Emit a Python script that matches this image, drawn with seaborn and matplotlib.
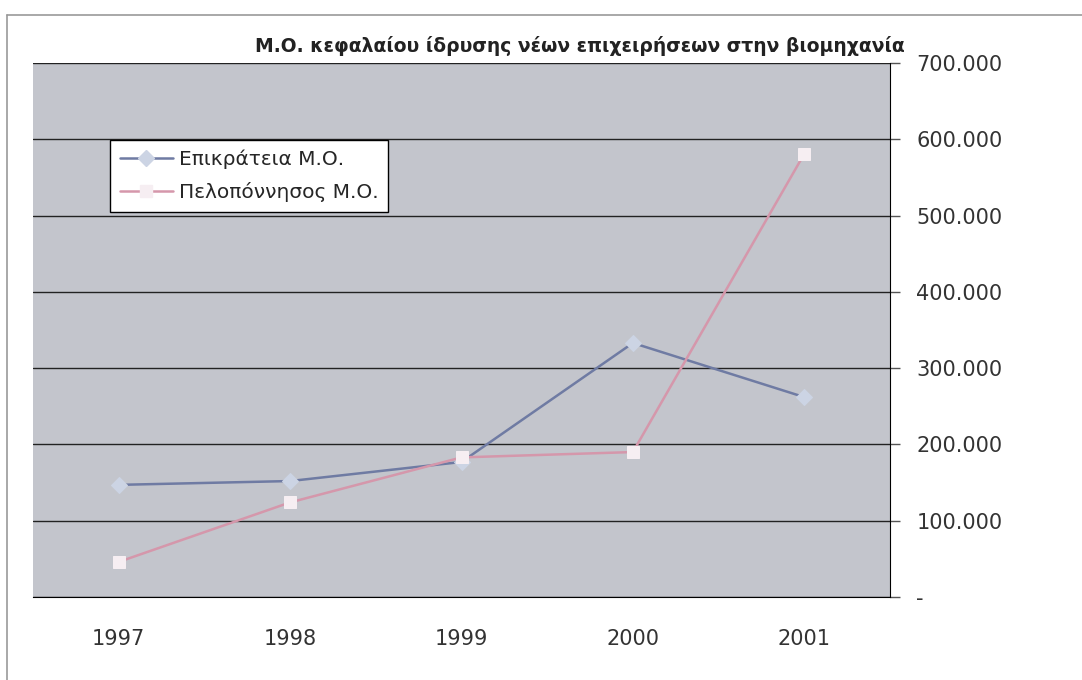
import numpy as np
import pandas as pd
import matplotlib
matplotlib.use("Agg")
import matplotlib.pyplot as plt
import seaborn as sns
from matplotlib.lines import Line2D

# -------------------------------------------------
# DATA
# -------------------------------------------------
years = ["1997", "1998", "1999", "2000", "2001"]
epikrateia = [147000, 152000, 177000, 333000, 262000]
peloponnisos = [46000, 124000, 183000, 190000, 581000]
series_names = ["Επικράτεια Μ.Ο.", "Πελοπόννησος Μ.Ο."]
title = "Μ.Ο. κεφαλαίου ίδρυσης νέων επιχειρήσεων στην βιομηχανία"
y_ticks = [0, 100000, 200000, 300000, 400000, 500000, 600000, 700000]
y_labels = ["-", "100.000", "200.000", "300.000", "400.000", "500.000", "600.000", "700.000"]

df = pd.DataFrame({
    "year": years * 2,
    "value": epikrateia + peloponnisos,
    "series": [series_names[0]] * 5 + [series_names[1]] * 5,
})

# -------------------------------------------------
# STYLE
# -------------------------------------------------
sns.set_style("white")
plt.rcParams["font.family"] = ["DejaVu Sans"]

fig = plt.figure(figsize=(10.82, 6.8), dpi=100)
ax = fig.add_axes([33 / 1082, 83 / 680, 857 / 1082, 534 / 680])
ax.set_facecolor("#c3c5cc")

palette = {series_names[0]: "#6f7ba3", series_names[1]: "#d597ab"}
markers = {series_names[0]: "D", series_names[1]: "s"}
marker_face = {series_names[0]: "#ccd4e4", series_names[1]: "#f6eef2"}

for name in series_names:
    sub = df[df["series"] == name]
    sns.lineplot(data=sub, x="year", y="value", ax=ax, color=palette[name],
                 marker=markers[name], markersize=8, linewidth=1.8,
                 markerfacecolor=marker_face[name], markeredgecolor=marker_face[name],
                 sort=False, legend=False)

# -------------------------------------------------
# AXES
# -------------------------------------------------
ax.set_xlim(-0.5, 4.5)
ax.set_ylim(0, 700000)
ax.set_xlabel("")
ax.set_ylabel("")

ax.set_xticks(np.arange(-0.5, 5, 1))
ax.set_xticklabels([])
ax.set_xticks(np.arange(5), minor=True)
ax.set_xticklabels(years, minor=True, fontsize=15, color="#333333")
ax.tick_params(axis="x", which="major", direction="out", length=6, width=1, color="black")
ax.tick_params(axis="x", which="minor", length=0, pad=23)

ax.yaxis.tick_right()
ax.set_yticks(y_ticks)
ax.set_yticklabels(y_labels, fontsize=15, color="#333333")
ax.tick_params(axis="y", direction="out", length=7, width=1, color="#555555", pad=12)

ax.grid(axis="y", color="#222222", linewidth=1)
ax.grid(axis="x", visible=False)
ax.set_axisbelow(True)

for side in ["left", "top"]:
    ax.spines[side].set_visible(False)
ax.spines["right"].set_color("black")
ax.spines["bottom"].set_color("black")

ax.set_title(title, fontsize=13.5, fontweight="bold", color="#222222", pad=8, x=0.638)

# -------------------------------------------------
# LEGEND
# -------------------------------------------------
handles = [Line2D([0], [0], color=palette[n], marker=markers[n], markersize=8,
                  markerfacecolor=marker_face[n], markeredgecolor=marker_face[n],
                  linewidth=1.8) for n in series_names]
leg = ax.legend(handles, series_names, loc="upper left", bbox_to_anchor=(0.09, 0.856),
                borderaxespad=0, fontsize=14.5, frameon=True, fancybox=False,
                handlelength=2.6, handletextpad=0.3, borderpad=0.5, labelspacing=0.6)
leg.get_frame().set_edgecolor("black")
leg.get_frame().set_facecolor("white")
leg.get_frame().set_alpha(1)

# outer frame lines
fig.add_artist(Line2D([7 / 1082, 7 / 1082], [0, 665 / 680], color="#999999",
                      linewidth=1.2, transform=fig.transFigure))
fig.add_artist(Line2D([7 / 1082, 1], [665 / 680, 665 / 680], color="#999999",
                      linewidth=1.2, transform=fig.transFigure))

plt.savefig("out.png", dpi=100)
plt.close()
